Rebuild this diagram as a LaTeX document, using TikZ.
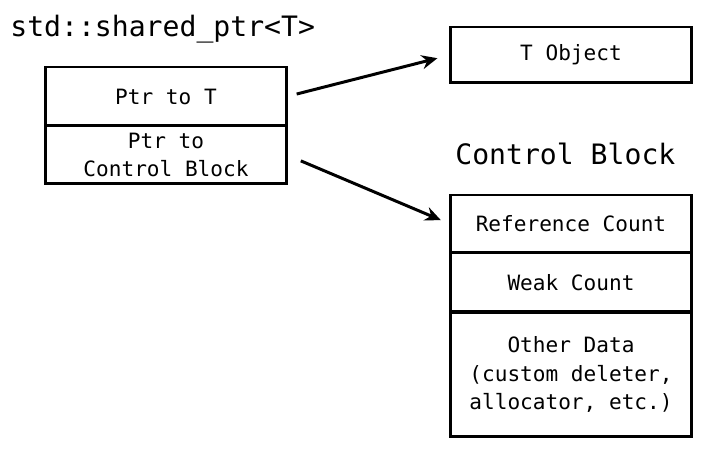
\documentclass[tikz,border=0pt]{standalone}
\usepackage{fontspec}
\setmonofont{DejaVu Sans Mono}
\usetikzlibrary{arrows.meta}
\tikzset{
  cell/.style={draw, line width=1.7pt, minimum width=4.84cm, inner sep=0pt,
    outer sep=0pt, align=center, font=\ttfamily\fontsize{12}{16.2}\selectfont},
  title/.style={anchor=base west, inner sep=0pt, font=\ttfamily\fontsize{16}{19}\selectfont},
  ptr/.style={line width=1.7pt, -{Stealth[length=9pt,width=8pt,inset=3pt]}}
}
\begin{document}
\begin{tikzpicture}[x=0.02cm, y=-0.02cm]
\useasboundingbox (0,0) rectangle (704,452);
\node[title] (sp) at (10,37) {std::shared\_ptr<T>};
\node[cell, minimum height=1.18cm] (ptrT) at (166,96.5) {Ptr to T};
\node[cell, minimum height=1.16cm] (ptrCB) at (166,155) {Ptr to\\Control Block};
\node[cell, minimum height=1.12cm] (tobj) at (571,55) {T Object};
\node[title] (cb) at (455,165) {Control Block};
\node[cell, minimum height=1.16cm] (refc) at (571,224) {Reference Count};
\node[cell, minimum height=1.18cm] (weakc) at (571,282.5) {Weak Count};
\node[cell, minimum height=2.5cm] (other) at (571,374.5) {Other Data\\(custom deleter,\\allocator, etc.)};
\draw[ptr, shorten <=0.2cm, shorten >=0.26cm] (ptrT.east) -- (tobj.west);
\draw[ptr, shorten <=0.3cm, shorten >=0.2cm] (ptrCB.east) -- (refc.west);
\end{tikzpicture}
\end{document}
